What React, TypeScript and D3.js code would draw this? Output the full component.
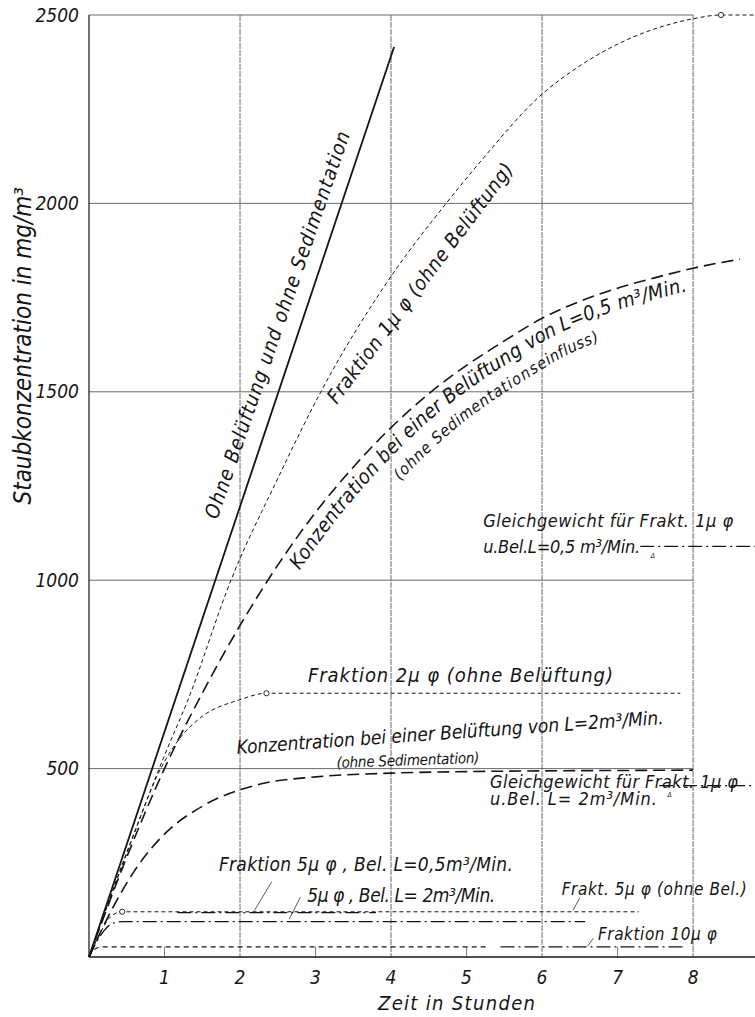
import React from 'react';
import * as d3 from 'd3';

const W = 755;
const H = 1017;
const FONT = "'DejaVu Sans Condensed', 'DejaVu Sans', sans-serif";

// axes
const hourTicks = [1, 2, 3, 4, 5, 6, 7, 8];
const majorHours = [2, 4, 6, 8];
const minorHours = [1, 3, 5, 7];
const concTicks = [500, 1000, 1500, 2000, 2500];

// curves: time in hours, concentration in mg/m3
const noVentT = [0, 4.04];
const noVentC = [0, 2415];

const frac1T = [0, 0.5, 1, 1.31, 1.88, 2.5, 3.07, 4.03, 4.73, 5.18, 6, 6.5, 7.12, 7.65, 8, 8.37, 8.82];
const frac1C = [0, 275, 535, 682, 1000, 1270, 1500, 1815, 2000, 2110, 2290, 2365, 2434, 2473, 2490, 2500, 2500];

const vent05T = [0, 0.5, 1, 1.5, 2, 2.5, 3, 3.5, 4, 4.5, 5, 5.5, 6, 6.5, 7, 7.5, 8, 8.62];
const vent05C = [0, 265, 500, 700, 880, 1040, 1180, 1300, 1405, 1495, 1570, 1635, 1695, 1740, 1775, 1803, 1828, 1852];

const frac2T = [0, 0.3, 0.6, 0.9, 1.2, 1.47, 2, 2.35, 7.83];
const frac2C = [0, 170, 330, 480, 580, 634, 683, 700, 700];

const vent2T = [0, 0.3, 0.6, 1.04, 1.5, 2.27, 3, 4, 5, 6, 7, 8];
const vent2C = [0, 125, 228, 334, 400, 459, 478, 488, 492, 494, 495, 496];

const frac5T = [0, 0.15, 0.28, 0.44, 1, 7.28];
const frac5C = [0, 64, 106, 120, 120, 120];

const frac5L05T = [1.17, 3.8];
const frac5L05C = [118, 118];

const frac5L2T = [0, 0.1, 0.2, 0.3, 0.45, 6.57];
const frac5L2C = [0, 40, 70, 88, 94, 94];

const frac10T = [0, 0.05, 0.12, 0.2, 5.3];
const frac10C = [0, 15, 25, 27, 27];
const frac10bT = [5.45, 7.9];
const frac10bC = [27, 27];

const eq05T = [7.3, 8.82];
const eq05C = [1090, 1090];
const eq2T = [7.55, 8.82];
const eq2C = [455, 455];

const zip = (t: number[], c: number[]) => t.map((v, i) => [v, c[i]] as [number, number]);

export default function App() {
  const x = d3.scaleLinear().domain([0, 8.82]).range([89, 755]);
  const y = d3.scaleLinear().domain([0, 2500]).range([957, 15]);

  const lineGen = d3
    .line<[number, number]>()
    .x(d => x(d[0]))
    .y(d => y(d[1]))
    .curve(d3.curveMonotoneX);

  const ink = '#151515';
  const grid = '#5a5a5a';
  const dashDot = '14 4 2 4';

  const series = [
    { d: zip(noVentT, noVentC), dash: 'none', w: 1.8 },
    { d: zip(frac1T, frac1C), dash: '4 3', w: 1 },
    { d: zip(vent05T, vent05C), dash: '12 6', w: 1.6 },
    { d: zip(frac2T, frac2C), dash: '4 3', w: 1 },
    { d: zip(vent2T, vent2C), dash: '12 6', w: 1.6 },
    { d: zip(frac5T, frac5C), dash: '4 3', w: 1 },
    { d: zip(frac5L05T, frac5L05C), dash: dashDot, w: 1.3 },
    { d: zip(frac5L2T, frac5L2C), dash: dashDot, w: 1.3 },
    { d: zip(frac10T, frac10C), dash: '5 4', w: 1.1 },
    { d: zip(frac10bT, frac10bC), dash: dashDot, w: 1.2 },
    { d: zip(eq05T, eq05C), dash: dashDot, w: 1.3 },
    { d: zip(eq2T, eq2C), dash: dashDot, w: 1.3 }
  ];

  const markers = [
    [8.37, 2500],
    [2.35, 700],
    [0.44, 120]
  ];

  // label path along the L=0,5 curve
  const labelPath = lineGen(zip(vent05T, vent05C).filter(p => p[0] >= 2.5)) || '';

  const txt = (t: number, v: number, s: string, size: number, len: number, rot = 0) => (
    <text
      key={s + t}
      transform={`translate(${x(t)},${y(v)}) rotate(${rot})`}
      fontSize={size}
      fontFamily={FONT}
      fontStyle="italic"
      fill={ink}
      textLength={len}
      lengthAdjust="spacing"
    >
      {s}
    </text>
  );

  const leaders = [
    [2.42, 200, 2.19, 123],
    [2.8, 159, 2.65, 100],
    [6.5, 157, 6.41, 124],
    [6.68, 50, 6.6, 28]
  ];

  return (
    <svg
      width={W}
      height={H}
      style={{ position: 'absolute', left: 0, top: 0, background: '#fff' }}
    >
      <defs>
        <path id="l05path" d={labelPath} fill="none" />
      </defs>
      <rect width={W} height={H} fill="#fff" />

      {/* grid */}
      {concTicks.map(c => (
        <line key={'h' + c} x1={x(0)} x2={x(8)} y1={y(c)} y2={y(c)} stroke={grid} strokeWidth={0.9} />
      ))}
      {majorHours.map(h => (
        <line key={'v' + h} x1={x(h)} x2={x(h)} y1={y(2500)} y2={y(0)} stroke={grid} strokeWidth={0.9} strokeDasharray="6 1" />
      ))}
      {minorHours.map(h => (
        <line key={'m' + h} x1={x(h)} x2={x(h)} y1={y(0) - 10} y2={y(0)} stroke={grid} strokeWidth={0.8} />
      ))}
      <line x1={x(0)} x2={x(0)} y1={y(2500)} y2={y(0)} stroke={ink} strokeWidth={1.2} />
      <line x1={x(0)} x2={x(8.82)} y1={y(0)} y2={y(0)} stroke={ink} strokeWidth={1.4} />

      {/* tick labels */}
      {concTicks.map(c => (
        <text key={'yl' + c} x={x(0) - 10} y={y(c)} dy="0.35em" textAnchor="end" fontSize={19} fontFamily={FONT} fontStyle="italic" fill={ink}>
          {c}
        </text>
      ))}
      {hourTicks.map(h => (
        <text key={'xl' + h} x={x(h)} y={y(0) + 27} textAnchor="middle" fontSize={19} fontFamily={FONT} fontStyle="italic" fill={ink}>
          {h}
        </text>
      ))}
      <text x={378} y={1010} fontSize={20} fontFamily={FONT} fontStyle="italic" fill={ink} textLength={157} lengthAdjust="spacing">
        Zeit in Stunden
      </text>
      <text transform="translate(31,187) rotate(-90)" textAnchor="end" fontSize={24} fontFamily={FONT} fontStyle="italic" fill={ink}>
        Staubkonzentration in mg/m³
      </text>

      {/* curves */}
      {series.map((s, i) => (
        <path key={'s' + i} d={lineGen(s.d) || ''} fill="none" stroke={ink} strokeWidth={s.w} strokeDasharray={s.dash} />
      ))}
      {markers.map((m, i) => (
        <circle key={'c' + i} cx={x(m[0])} cy={y(m[1])} r={2.6} fill="#fff" stroke={ink} strokeWidth={0.9} />
      ))}
      {leaders.map((l, i) => (
        <line key={'a' + i} x1={x(l[0])} y1={y(l[1])} x2={x(l[2])} y2={y(l[3])} stroke={ink} strokeWidth={0.7} />
      ))}

      {/* rotated labels */}
      {txt(1.7, 1160, 'Ohne Belüftung und ohne Sedimentation', 20, 408, -71)}
      {txt(3.28, 1465, 'Fraktion 1μ φ  (ohne Belüftung)', 20, 295, -53)}
      <text fontSize={20} fontFamily={FONT} fontStyle="italic" fill={ink} letterSpacing={0.6}>
        <textPath href="#l05path" startOffset={8}>
          <tspan dy={21}>Konzentration bei einer Belüftung von L=0,5 m³/Min.</tspan>
        </textPath>
      </text>
      <text fontSize={16} fontFamily={FONT} fontStyle="italic" fill={ink} letterSpacing={1.6}>
        <textPath href="#l05path" startOffset={146}>
          <tspan dy={44}>(ohne Sedimentationseinfluss)</tspan>
        </textPath>
      </text>

      {/* horizontal labels */}
      {txt(5.22, 1141, 'Gleichgewicht für Frakt. 1μ φ', 18, 250)}
      {txt(5.22, 1072, 'u.Bel.L=0,5 m³/Min.', 18, 157)}
      {txt(2.9, 730, 'Fraktion 2μ φ  (ohne Belüftung)', 20, 305)}
      {txt(1.96, 539, 'Konzentration bei einer Belüftung von L=2m³/Min.', 19, 428, -4)}
      {txt(3.28, 502, '(ohne Sedimentation)', 15, 143, -2)}
      {txt(5.31, 448, 'Gleichgewicht für Frakt. 1μ φ', 18, 248)}
      {txt(5.31, 403, 'u.Bel. L= 2m³/Min.', 18, 167)}
      {txt(1.72, 228, 'Fraktion  5μ φ , Bel. L=0,5m³/Min.', 19, 294)}
      {txt(2.89, 146, '5μ φ , Bel. L= 2m³/Min.', 19, 188)}
      {txt(6.26, 165, 'Frakt. 5μ φ  (ohne Bel.)', 17, 185)}
      {txt(6.74, 45, 'Fraktion 10μ φ', 17, 119)}
      {txt(7.44, 1060, 'Δ', 7, 5)}
      {txt(7.66, 424, 'Δ', 7, 5)}
    </svg>
  );
}
